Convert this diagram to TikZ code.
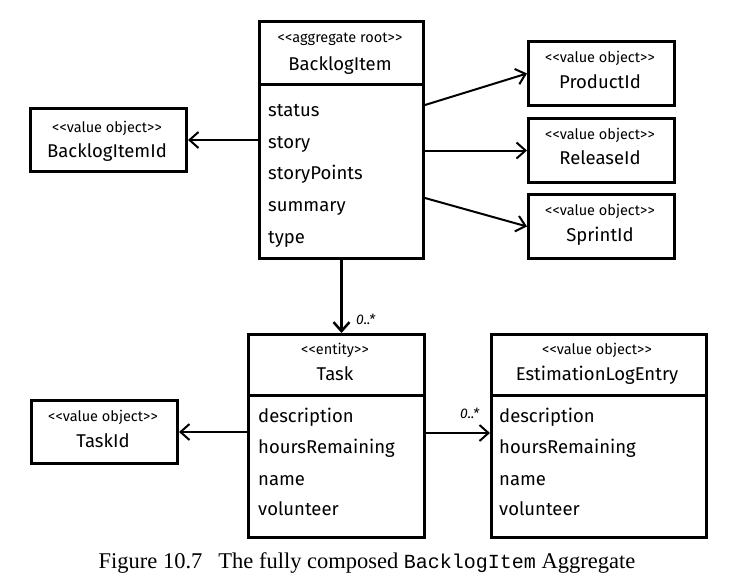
\documentclass[tikz,border=0pt]{standalone}
\usepackage{fontspec}
\setmainfont[Ligatures=NoCommon]{Fira Sans}
\newfontfamily\capfont{Liberation Serif}
\newfontfamily\capmono{Liberation Mono}
\usetikzlibrary{arrows.meta}
\newcommand{\lt}{<\kern0.3pt<}
\newcommand{\gt}{>\kern0.3pt>}
\begin{document}
\begin{tikzpicture}[x=1pt,y=-1pt,
  box/.style={draw, line width=3pt, rectangle, anchor=north west, inner sep=0pt},
  divider/.style={line width=3pt},
  stereo/.style={font=\fontsize{14.5}{16}\selectfont, anchor=base, inner sep=0pt},
  cname/.style={font=\fontsize{18.5}{20}\selectfont, anchor=base, inner sep=0pt},
  attr/.style={font=\fontsize{18.5}{20}\selectfont, anchor=base west, inner sep=0pt},
  mult/.style={font=\itshape\fontsize{14}{15}\selectfont, anchor=base west, inner sep=0pt},
  arr/.style={line width=2pt, -{Straight Barb[length=9pt,width=16pt,line width=2pt]}},
  arrthick/.style={line width=3pt, -{Straight Barb[length=9pt,width=16pt,line width=2.5pt]}}
]
\useasboundingbox (0,0) rectangle (733,579);

% BacklogItem
\node[box, minimum width=164pt, minimum height=237pt] (bi) at (258,20) {};
\draw[divider] (bi.west |- 0,84) -- (bi.east |- 0,84);
\node[stereo] (bis) at (340,42) {\lt aggregate root\gt};
\node[cname] (bin) at (340,70) {BacklogItem};
\node[attr] (ba1) at (268,116) {status};
\node[attr] (ba2) at (268,148) {story};
\node[attr] (ba3) at (268,179) {storyPoints};
\node[attr] (ba4) at (268,211) {summary};
\node[attr] (ba5) at (268,243) {type};

% BacklogItemId
\node[box, minimum width=156pt, minimum height=63pt] (bid) at (29,107) {};
\node[stereo] (bids) at (107,132) {\lt value object\gt};
\node[cname] (bidn) at (107,157) {BacklogItemId};

% ProductId
\node[box, minimum width=146pt, minimum height=64pt] (pid) at (527,40) {};
\node[stereo] (pids) at (600,62) {\lt value object\gt};
\node[cname] (pidn) at (600,88) {ProductId};

% ReleaseId
\node[box, minimum width=146pt, minimum height=64pt] (rid) at (527,117) {};
\node[stereo] (rids) at (600,139) {\lt value object\gt};
\node[cname] (ridn) at (600,164) {ReleaseId};

% SprintId
\node[box, minimum width=146pt, minimum height=64pt] (sid) at (527,193) {};
\node[stereo] (sids) at (600,215) {\lt value object\gt};
\node[cname] (sidn) at (600,241) {SprintId};

% Task
\node[box, minimum width=176pt, minimum height=203pt] (task) at (247,333) {};
\draw[divider] (task.west |- 0,395) -- (task.east |- 0,395);
\node[stereo] (tasks) at (335,354) {\lt entity\gt};
\node[cname] (taskn) at (335,380) {Task};
\node[attr] (ta1) at (258,422) {description};
\node[attr] (ta2) at (258,453) {hoursRemaining};
\node[attr] (ta3) at (258,485) {name};
\node[attr] (ta4) at (258,515) {volunteer};

% EstimationLogEntry
\node[box, minimum width=215pt, minimum height=203pt] (ele) at (490,333) {};
\draw[divider] (ele.west |- 0,395) -- (ele.east |- 0,395);
\node[stereo] (eles) at (597,354) {\lt value object\gt};
\node[cname] (elen) at (597,380) {EstimationLogEntry};
\node[attr] (ea1) at (499,422) {description};
\node[attr] (ea2) at (499,453) {hoursRemaining};
\node[attr] (ea3) at (499,485) {name};
\node[attr] (ea4) at (499,515) {volunteer};

% TaskId
\node[box, minimum width=146pt, minimum height=63pt] (tid) at (30,399) {};
\node[stereo] (tids) at (103,421) {\lt value object\gt};
\node[cname] (tidn) at (103,447) {TaskId};

% connectors
\draw[arr] (bi.west |- bid.east) -- (bid.east);
\coordinate (bp) at (bi.east |- 0,105);
\draw[arr] (bp) -- (pid.west);
\draw[arr] (bi.east |- rid.west) -- (rid.west);
\coordinate (bs) at (bi.east |- 0,198);
\draw[arr] (bs) -- (sid.west);
\draw[arrthick] (bi.south) -- (bi.south |- task.north);
\node[mult] (m1) at (356,324) {0..*};
\draw[arr] (task.east |- 0,433) coordinate (te) -- (ele.west |- te);
\node[mult] (m2) at (460,418) {0..*};
\draw[arr] (task.west |- 0,432) coordinate (tw) -- (tid.east |- tw);

% caption
\node[anchor=base, inner sep=0pt, font=\capfont\fontsize{22.5}{25}\selectfont] (cap) at (367,568)
  {Figure 10.7\hspace{16pt}The fully composed {\capmono\fontsize{20}{22}\selectfont BacklogItem} Aggregate};
\end{tikzpicture}
\end{document}
